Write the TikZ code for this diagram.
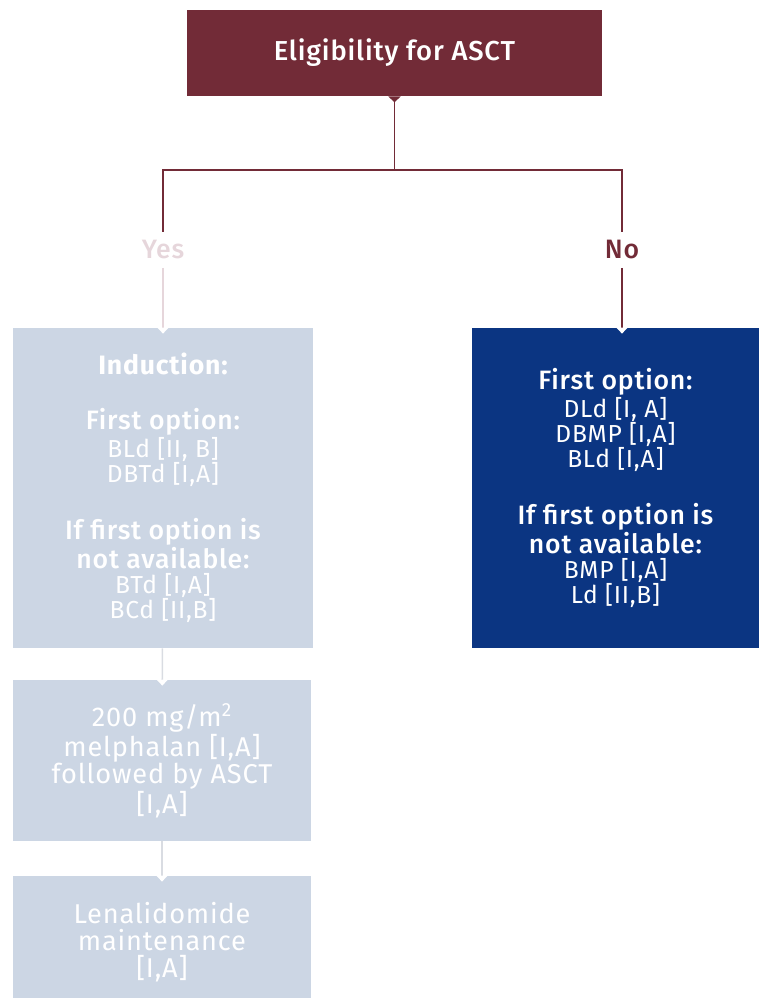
\documentclass[tikz,border=0pt]{standalone}
\usepackage{fontspec}
\setmainfont{Fira Sans}[LetterSpace=3]
\newfontfamily\medfont{Fira Sans Medium}[LetterSpace=3]
\usetikzlibrary{arrows.meta}
\definecolor{wine}{HTML}{722B37}
\definecolor{mist}{HTML}{CCD6E4}
\definecolor{navy}{HTML}{0B3582}
\definecolor{blush}{HTML}{E6D6DB}
\definecolor{haze}{HTML}{D9DCE2}
\tikzset{
  font={\fontsize{12.3pt}{12.5pt}\selectfont}}
\newcommand{\head}[1]{{\medfont\fontsize{13.3pt}{12.5pt}\selectfont #1}}

\begin{document}
\begin{tikzpicture}[x=0.5pt,y=-0.5pt]
\tikzstyle{every node}+=[inner sep=0pt, align=center]
\tikzstyle{lbox}=[fill=mist, text=white, minimum width=150pt]
\tikzstyle{lbl}=[inner sep=4pt, font={\medfont\fontsize{13.3pt}{14pt}\selectfont}]
\tikzstyle{notch}=[-{Triangle[length=3pt,width=5.5pt,color=white]}, shorten >=-3pt]
\clip (0,0) rectangle (759,998);
% boxes
\node [fill=wine, text=white, minimum width=207.5pt, minimum height=43pt, font={\medfont\fontsize{13.7pt}{14pt}\selectfont}] (top) at (394.5,53) {Eligibility for ASCT};
\node [lbox, minimum height=160pt] (induct) at (163,488) {{\bfseries\fontsize{13.3pt}{12.5pt}\selectfont Induction:}\\[15pt]
  \head{First option:}\\ BLd [II, B]\\ DBTd [I,A]\\[15pt]
  \head{If first option is}\\ \head{not available:}\\ BTd [I,A]\\ BCd [II,B]};
\node [fill=navy, text=white, minimum width=143.5pt, minimum height=160pt] (nonasct) at (615.5,488) {\head{First option:}\\ DLd [I, A]\\ DBMP [I,A]\\ BLd [I,A]\\[15pt]
  \head{If first option is}\\ \head{not available:}\\ BMP [I,A]\\ Ld [II,B]};
\node [lbox, minimum width=149pt, minimum height=80.5pt, font={\fontsize{13.6pt}{13.5pt}\selectfont}] (melph) at (162,760.5) {200 mg/m\textsuperscript{2}\\ melphalan [I,A]\\ followed by ASCT\\ {[I,A]}};
\node [lbox, minimum width=149pt, minimum height=66pt, font={\fontsize{13.6pt}{13.5pt}\selectfont}] (lenal) at (162,942) {Lenalidomide\\ maintenance\\ {[I,A]}};
% labels
\node [lbl, text=blush] (yes) at (163,250) {Yes};
\node [lbl, text=wine] (no) at (622,250) {No};
\coordinate (split) at (394.5,170);
% connectors
\draw [wine, line width=0.8pt, {Triangle[reversed,length=3pt,width=6pt]}-] (top.south) -- (split);
\draw [wine, line width=0.8pt] (split) -| (yes.north);
\draw [wine, line width=0.8pt] (split) -| (no.north);
\draw [blush, line width=0.8pt, notch] (yes) -- (induct);
\draw [wine, line width=0.8pt, notch] (no) -- (no |- nonasct.north);
\draw [haze, line width=0.8pt, notch] (induct) -- (melph);
\draw [haze, line width=0.8pt, notch] (melph) -- (lenal);
\end{tikzpicture}
\end{document}
